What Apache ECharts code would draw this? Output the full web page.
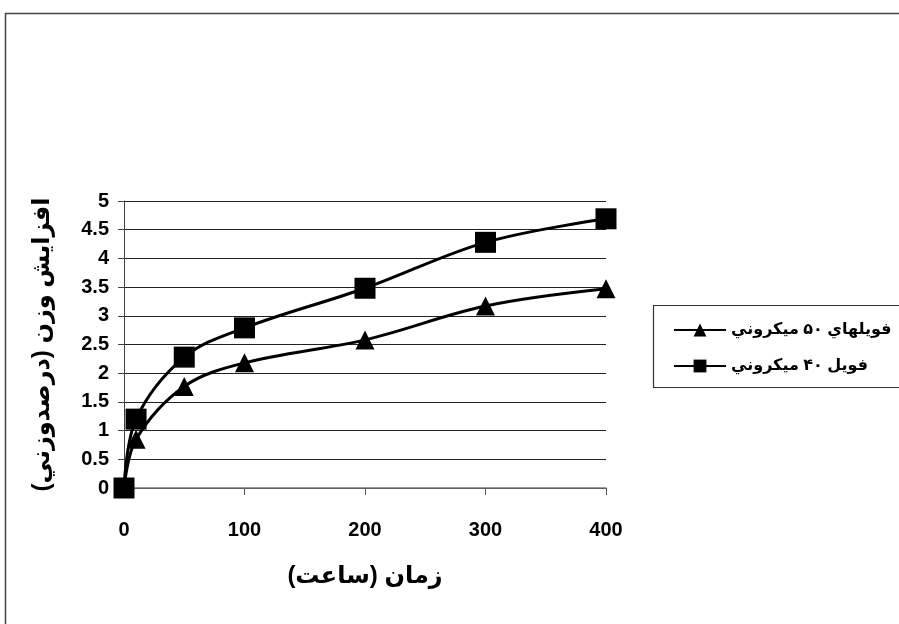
<!DOCTYPE html>
<html><head><meta charset="utf-8">
<script src="https://cdn.jsdelivr.net/npm/echarts@6/dist/echarts.min.js"></script>
<style>html,body{margin:0;padding:0;background:#fff}#c{width:899px;height:624px}</style>
</head><body><div id="c"></div>
<script>
const timeHours = [0, 10, 50, 100, 200, 300, 400];
const foil50 = [0, 0.85, 1.77, 2.18, 2.58, 3.17, 3.47];
const foil40 = [0, 1.2, 2.28, 2.79, 3.48, 4.28, 4.69];
const seriesNames = ['فويلهاي ۵۰ ميكروني', 'فويل ۴۰ ميكروني'];
const xTitle = 'زمان (ساعت)';
const yTitle = 'افزايش وزن (درصدوزني)';

const pairs = (xs, ys) => xs.map((x, i) => [x, ys[i]]);
const font = '"Liberation Sans", Arial, "DejaVu Sans", sans-serif';
const chart = echarts.init(document.getElementById('c'));
chart.setOption({
  animation: false,
  backgroundColor: '#fff',
  grid: { left: 124, right: 293, top: 201, bottom: 136 },
  graphic: [
    { type: 'rect', shape: { x: 5.5, y: 13.5, width: 900, height: 620 }, style: { fill: 'none', stroke: '#444', lineWidth: 1.5 }, z: -1 },
    { type: 'rect', shape: { x: 653.5, y: 305.5, width: 260, height: 82 }, style: { fill: '#fff', stroke: '#333', lineWidth: 1.2 }, z: 0 }
  ],
  legend: {
    orient: 'vertical', left: 668, top: 317, itemGap: 20, itemWidth: 52, itemHeight: 16, itemGap: 20,
    textStyle: { fontFamily: font, fontWeight: 'bold', fontSize: 16, color: '#000' },
    data: [seriesNames[0], seriesNames[1]], z: 5
  },
  xAxis: {
    type: 'value', min: 0, max: 400, interval: 100,
    name: xTitle, nameLocation: 'middle', nameGap: 76,
    nameTextStyle: { fontFamily: font, fontWeight: 'bold', fontSize: 24, color: '#000' },
    axisLine: { lineStyle: { color: '#777', width: 1.5 } },
    axisTick: { show: true, length: 7, lineStyle: { color: '#555' } },
    axisLabel: { margin: 32, fontFamily: font, fontWeight: 'bold', fontSize: 20, color: '#000' },
    splitLine: { show: false }
  },
  yAxis: {
    type: 'value', min: 0, max: 5, interval: 0.5,
    name: yTitle, nameLocation: 'middle', nameGap: 70, nameRotate: 90,
    nameTextStyle: { fontFamily: font, fontWeight: 'bold', fontSize: 24, color: '#000' },
    axisLine: { show: true, lineStyle: { color: '#444', width: 1 } },
    axisTick: { show: true, length: 6, lineStyle: { color: '#444' } },
    axisLabel: { margin: 15, fontFamily: font, fontWeight: 'bold', fontSize: 20, color: '#000' },
    splitLine: { show: true, lineStyle: { color: '#222', width: 1 } }
  },
  series: [
    { name: seriesNames[0], type: 'line', smooth: 0.35, data: pairs(timeHours, foil50),
      symbol: 'triangle', symbolSize: 19, itemStyle: { color: '#000' },
      lineStyle: { color: '#000', width: 3 }, z: 3 },
    { name: seriesNames[1], type: 'line', smooth: 0.35, data: pairs(timeHours, foil40),
      symbol: 'rect', symbolSize: 21, itemStyle: { color: '#000' },
      lineStyle: { color: '#000', width: 3 }, z: 4 }
  ]
});
</script></body></html>
